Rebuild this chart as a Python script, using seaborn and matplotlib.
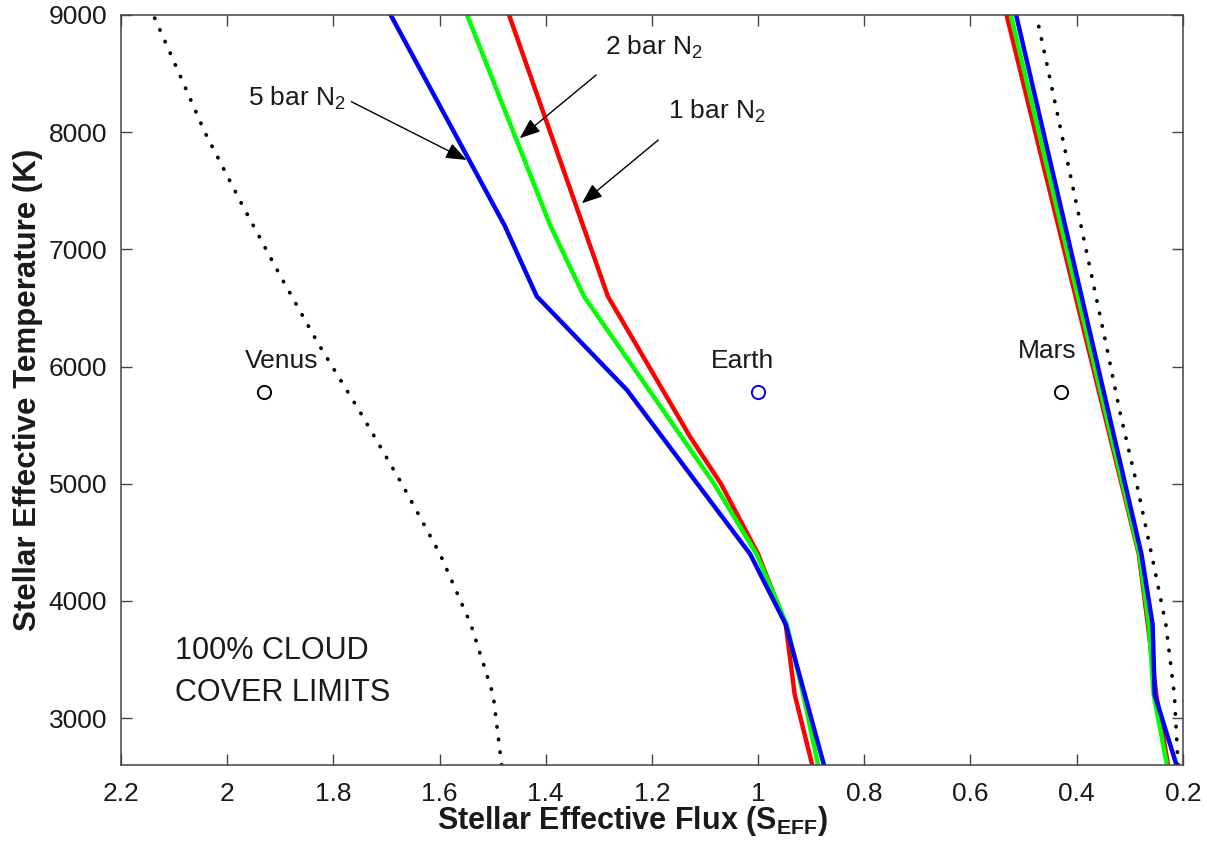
import numpy as np
import pandas as pd
import matplotlib
matplotlib.use("Agg")
import matplotlib.pyplot as plt
import seaborn as sns

# --- data ---
# inner (runaway greenhouse) limits, flux vs stellar temperature
temp_in_1bar = [2600, 3200, 3800, 4400, 5000, 5400, 6600, 9000]
flux_in_1bar = [0.898, 0.931, 0.948, 1.000, 1.070, 1.128, 1.283, 1.469]
temp_in_2bar = [2600, 3200, 3800, 4400, 5000, 6600, 7200, 9000]
flux_in_2bar = [0.887, 0.915, 0.946, 1.003, 1.083, 1.328, 1.391, 1.548]
temp_in_5bar = [2600, 3200, 3800, 4400, 5800, 6600, 7200, 9000]
flux_in_5bar = [0.876, 0.912, 0.948, 1.015, 1.247, 1.417, 1.477, 1.692]

# outer (maximum greenhouse) limits
temp_out = [2600, 3200, 3800, 4400, 9000]
flux_out_1bar = [0.228, 0.250, 0.266, 0.283, 0.532]
flux_out_2bar = [0.230, 0.255, 0.264, 0.282, 0.524]
flux_out_5bar = [0.212, 0.253, 0.257, 0.278, 0.514]

# 100% cloud cover limits (dotted)
temp_cloud = [2600, 3200, 3800, 4400, 5000, 5600, 6200, 6800, 7400, 8000, 8600, 9000]
flux_cloud_in = [1.483, 1.499, 1.541, 1.599, 1.671, 1.748, 1.829, 1.903, 1.974, 2.042, 2.100, 2.139]
flux_cloud_out = [0.209, 0.216, 0.232, 0.259, 0.287, 0.318, 0.345, 0.373, 0.401, 0.429, 0.457, 0.476]

planet_names = ["Venus", "Earth", "Mars"]
planet_flux = [1.93, 1.0, 0.43]
planet_temp = [5780, 5780, 5780]
planet_colors = ["black", "blue", "black"]

x_ticks = [2.2, 2.0, 1.8, 1.6, 1.4, 1.2, 1.0, 0.8, 0.6, 0.4, 0.2]
y_ticks = [3000, 4000, 5000, 6000, 7000, 8000, 9000]

sns.set_style("ticks")
plt.rcParams["font.family"] = ["Liberation Sans", "DejaVu Sans"]
plt.rcParams["mathtext.fontset"] = "custom"
plt.rcParams["mathtext.rm"] = "Liberation Sans"
plt.rcParams["mathtext.it"] = "Liberation Sans:italic"
plt.rcParams["mathtext.bf"] = "Liberation Sans:bold"

fig = plt.figure(figsize=(12.07, 8.61), dpi=100)
ax = fig.add_axes([0.1002, 0.1115, 0.8798, 0.8711])

line_kw = dict(sort=False, estimator=None, lw=3.2, ax=ax, legend=False)
sns.lineplot(x=flux_in_1bar, y=temp_in_1bar, color="#ff0000", **line_kw)
sns.lineplot(x=flux_in_2bar, y=temp_in_2bar, color="#00ff00", **line_kw)
sns.lineplot(x=flux_in_5bar, y=temp_in_5bar, color="#0000ff", **line_kw)
sns.lineplot(x=flux_out_1bar, y=temp_out, color="#ff0000", **line_kw)
sns.lineplot(x=flux_out_2bar, y=temp_out, color="#00ff00", **line_kw)
sns.lineplot(x=flux_out_5bar, y=temp_out, color="#0000ff", **line_kw)

dot_kw = dict(sort=False, estimator=None, lw=2.7, color="black", ax=ax, legend=False)
sns.lineplot(x=flux_cloud_in, y=temp_cloud, **dot_kw)
sns.lineplot(x=flux_cloud_out, y=temp_cloud, **dot_kw)
for ln in ax.lines[-2:]:
    ln.set_linestyle((0, (0.1, 3.3)))
    ln.set_dash_capstyle("round")

planets = pd.DataFrame({"flux": planet_flux, "temp": planet_temp, "name": planet_names})
for _, row in planets.iterrows():
    c = planet_colors[planet_names.index(row["name"])]
    ax.plot(row["flux"], row["temp"], "o", ms=9.5, mfc="none", mec=c, mew=1.4)

# planet labels
txt = dict(fontsize=19, color="#1a1a1a")
ax.text(1.897, 5991, "Venus", ha="center", va="baseline", **txt)
ax.text(1.029, 5985, "Earth", ha="center", va="baseline", **txt)
ax.text(0.455, 6071, "Mars", ha="center", va="baseline", **txt)

ax.text(2.098, 3503, "100% CLOUD", ha="left", va="baseline", fontsize=22, color="#1a1a1a")
ax.text(2.098, 3147, "COVER LIMITS", ha="left", va="baseline", fontsize=22, color="#1a1a1a")

# pressure annotations
arrow = dict(arrowstyle="-|>,head_length=0.9,head_width=0.35", color="black",
             lw=1.0, shrinkA=0, shrinkB=0, mutation_scale=14)
ax.annotate("", xy=(1.549, 7763), xytext=(1.766, 8260), arrowprops=arrow)
ax.annotate("", xy=(1.449, 7948), xytext=(1.305, 8488), arrowprops=arrow)
ax.annotate("", xy=(1.332, 7393), xytext=(1.188, 7933), arrowprops=arrow)
ax.text(1.961, 8224, "5 bar N$_2$", ha="left", va="baseline", **txt)
ax.text(1.288, 8659, "2 bar N$_2$", ha="left", va="baseline", **txt)
ax.text(1.169, 8110, "1 bar N$_2$", ha="left", va="baseline", **txt)

ax.set_xlim(2.2, 0.2)
ax.set_ylim(2600, 9000)
ax.set_xticks(x_ticks)
ax.set_xticklabels([f"{v:g}" for v in x_ticks])
ax.set_yticks(y_ticks)
ax.set_yticklabels([str(v) for v in y_ticks])
ax.tick_params(direction="in", top=True, right=True, length=8, width=1,
               labelsize=19, labelcolor="#1a1a1a", color="#444444")
ax.tick_params(axis="x", pad=12)
ax.tick_params(axis="y", pad=10)
for sp in ax.spines.values():
    sp.set_color("#444444")
    sp.set_linewidth(1.1)

ax.set_xlabel(r"Stellar Effective Flux (S$_{\mathbf{EFF}}$)", fontsize=22,
              fontweight="bold", color="#1a1a1a", labelpad=0)
ax.xaxis.set_label_coords(0.482, -0.052, transform=ax.transAxes)
ax.xaxis.label.set_va("top")
ax.set_ylabel("Stellar Effective Temperature (K)", fontsize=22.5,
              fontweight="bold", color="#1a1a1a", labelpad=4)

fig.savefig("out.png", dpi=100)
